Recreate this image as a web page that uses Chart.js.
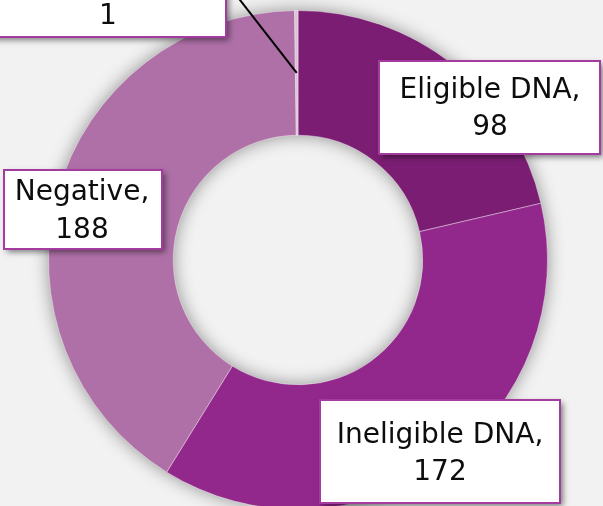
<!DOCTYPE html>
<html>
<head>
<meta charset="utf-8">
<script src="https://cdn.jsdelivr.net/npm/chart.js@4.4.1/dist/chart.umd.min.js"></script>
<style>
  html, body { margin: 0; padding: 0; background: #f2f2f2; overflow: hidden; }
  #wrap { position: relative; width: 603px; height: 506px; overflow: hidden; }
  canvas { position: absolute; left: 0; top: 0; }
</style>
</head>
<body>
<div id="wrap"><canvas id="donut" width="603" height="520"></canvas></div>
<script>
const categories = ['Eligible DNA', 'Ineligible DNA', 'Negative', 'Other'];
const counts = [98, 172, 188, 1];

const sliceColors = ['#7b1e73', '#93288c', '#af70a7', '#dcc2d8'];

// callout boxes, offsets in px from the doughnut centre
const labelBoxes = [
  { bx: 191.5, by: -152.5, w: 221, h: 93, tx: 192, ty: -151 },
  { bx: 142, by: 191.5, w: 240, h: 103, tx: 142, ty: 194 },
  { bx: -215, by: -50.5, w: 158, h: 79, tx: -216, ty: -48.5 },
  { bx: -190, by: -278, w: 236, h: 110, tx: -190, ty: -262.5, leader: true }
];

const LABEL_FONT = '28px "DejaVu Sans", Verdana, sans-serif';
const LINE_GAP = 37.5;

const ringShadow = {
  id: 'ringShadow',
  beforeDraw(chart) {
    const { ctx, width, height } = chart;
    ctx.save();
    ctx.fillStyle = '#f2f2f2';
    ctx.fillRect(0, 0, width, height);
    ctx.restore();
  },
  beforeDatasetsDraw(chart) {
    const arc = chart.getDatasetMeta(0).data[0];
    const ctx = chart.ctx;
    ctx.save();
    ctx.shadowColor = 'rgba(0, 0, 0, 0.45)';
    ctx.shadowBlur = 18;
    ctx.fillStyle = sliceColors[2];
    ctx.beginPath();
    ctx.arc(arc.x, arc.y, arc.outerRadius - 1, 0, Math.PI * 2);
    ctx.arc(arc.x, arc.y, arc.innerRadius + 1, 0, Math.PI * 2, true);
    ctx.fill();
    ctx.restore();
  }
};

const calloutLabels = {
  id: 'calloutLabels',
  afterDatasetsDraw(chart) {
    const meta = chart.getDatasetMeta(0);
    const ctx = chart.ctx;
    const cx = meta.data[0].x;
    const cy = meta.data[0].y;

    meta.data.forEach((arc, i) => {
      const b = labelBoxes[i];
      const left = cx + b.bx - b.w / 2;
      const top = cy + b.by - b.h / 2;

      if (b.leader) {
        const mid = (arc.startAngle + arc.endAngle) / 2;
        const r = (arc.innerRadius + arc.outerRadius) / 2;
        ctx.save();
        ctx.strokeStyle = '#000';
        ctx.lineWidth = 2;
        ctx.beginPath();
        ctx.moveTo(cx + Math.cos(mid) * r, cy + Math.sin(mid) * r);
        ctx.lineTo(left + b.w, top + b.h / 2);
        ctx.stroke();
        ctx.restore();
      }

      ctx.save();
      ctx.shadowColor = 'rgba(0, 0, 0, 0.5)';
      ctx.shadowBlur = 6;
      ctx.shadowOffsetX = 3;
      ctx.shadowOffsetY = 3;
      ctx.fillStyle = '#fff';
      ctx.fillRect(left, top, b.w, b.h);
      ctx.restore();

      ctx.save();
      ctx.strokeStyle = '#a43c9f';
      ctx.lineWidth = 2;
      ctx.strokeRect(left, top, b.w, b.h);
      ctx.fillStyle = '#0d0d0d';
      ctx.font = LABEL_FONT;
      ctx.textAlign = 'center';
      ctx.textBaseline = 'middle';
      ctx.fillText(categories[i] + ',', cx + b.tx, cy + b.ty - LINE_GAP / 2);
      ctx.fillText(String(counts[i]), cx + b.tx, cy + b.ty + LINE_GAP / 2);
      ctx.restore();
    });
  }
};

new Chart(document.getElementById('donut'), {
  type: 'doughnut',
  data: {
    labels: categories,
    datasets: [{
      data: counts,
      backgroundColor: sliceColors,
      borderColor: 'rgba(255, 255, 255, 0.4)',
      borderWidth: 1
    }]
  },
  options: {
    responsive: false,
    animation: false,
    events: [],
    cutout: '50%',
    layout: { padding: { left: 48, right: 55, top: 10, bottom: 10 } },
    plugins: {
      legend: { display: false },
      tooltip: { enabled: false }
    }
  },
  plugins: [ringShadow, calloutLabels]
});
</script>
</body>
</html>
